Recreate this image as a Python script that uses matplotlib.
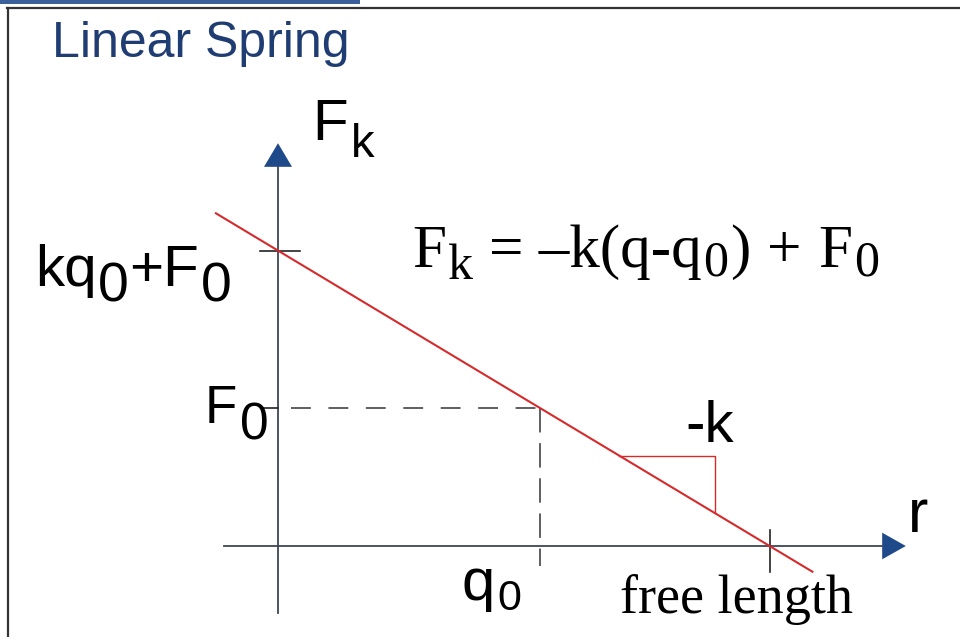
import matplotlib
matplotlib.use("Agg")
import matplotlib.pyplot as plt
import matplotlib.transforms as mtransforms
from matplotlib.patches import Rectangle

# -----------------------------
# Spring model (diagram units)
# -----------------------------
K = 0.6                # slope magnitude
Q0 = 4.0               # reference position
F0 = 2.1               # force at q0
FREE_LENGTH = 7.5      # where the force crosses zero
KQ0_F0 = 4.5           # intercept on the force axis

# red force line, end points
q_line = [-0.96, 8.16]
f_line = [5.08, -0.40]

# little slope triangle
tri_q = [5.20, 6.66, 6.66]
tri_f = [1.37, 1.37, 0.50]

# axes extents
R_AXIS = [-0.82, 9.21]
F_AXIS = [-1.02, 5.78]
R_TIP = 9.57
F_TIP = 6.14

# -----------------------------
# Figure setup
# -----------------------------
W, H = 960, 637
SCALE = 65.6                 # pixels per diagram unit
ORIGIN = (278, 546)          # pixel position of (0, 0)

fig = plt.figure(figsize=(W / 100, H / 100), dpi=100)
ax = fig.add_axes([0, 0, 1, 1])
ax.set_xlim(-ORIGIN[0] / SCALE, (W - ORIGIN[0]) / SCALE)
ax.set_ylim((ORIGIN[1] - H) / SCALE, ORIGIN[1] / SCALE)
ax.axis("off")

# pixel transform, y measured downwards from the top edge
pix = mtransforms.Affine2D().scale(1, -1).translate(0, H) + mtransforms.IdentityTransform()

AXIS_COL = "#3c4757"
HEAD_COL = "#1f4a8a"
RED = "#d62a2c"
NAVY = "#1f3d73"

# frame + little blue tab on top
fig.add_artist(Rectangle((0, 0), 360, 4, transform=pix, color="#3b5f9b", lw=0))
fig.add_artist(plt.Line2D([7, 960], [8, 8], transform=pix, color="#333333", lw=1.6))
fig.add_artist(plt.Line2D([8, 8], [8, 637], transform=pix, color="#333333", lw=1.6))

# axes lines
ax.plot(R_AXIS, [0, 0], color=AXIS_COL, lw=1.3)
ax.plot([0, 0], F_AXIS, color=AXIS_COL, lw=1.3)
hw = 14 / SCALE
ax.fill([R_AXIS[1], R_AXIS[1], R_TIP], [-hw * 0.95, hw * 0.95, 0], color=HEAD_COL, lw=0)
ax.fill([-hw, hw, 0], [F_AXIS[1], F_AXIS[1], F_TIP], color=HEAD_COL, lw=0)

# ticks
ax.plot([-0.27, 0.34], [KQ0_F0, KQ0_F0], color="#222222", lw=1.2)
ax.plot([-0.25, 0], [F0, F0], color="#222222", lw=1.2)
ax.plot([FREE_LENGTH, FREE_LENGTH], [0.24, -0.40], color="#222222", lw=1.2)

# dashed guides to (q0, F0)
ax.plot([0.2, Q0], [F0, F0], color="#333333", lw=1.1, dashes=(13, 11.5))
ax.plot([Q0, Q0], [F0, -0.3], color="#333333", lw=1.1, dashes=(16, 7))

# force line and slope triangle
ax.plot(q_line, f_line, color=RED, lw=1.5, solid_capstyle="butt")
ax.plot(tri_q, tri_f, color=RED, lw=1.0)

# -----------------------------
# Labels (pieces with subscripts)
# -----------------------------
fig.canvas.draw()
renderer = fig.canvas.get_renderer()


def write(x, y, parts, family, color="black"):
    # parts: (text, fontsize, baseline shift in px, extra gap after in px)
    for s, size, dy, gap in parts:
        t = fig.text(x, y + dy, s, transform=pix, fontsize=size, family=family,
                     color=color, ha="left", va="baseline")
        x += t.get_window_extent(renderer).width + gap


SANS = "Liberation Sans"
SERIF = "Liberation Serif"

write(52, 57, [("Linear Spring", 36, 0, 0)], SANS, NAVY)
write(312, 140, [("F", 42, 0, 3), ("k", 34, 17, 0)], SANS)
write(35, 286, [("kq", 42, 0, 1), ("0", 40, 16, 1), ("+F", 42, 0, 2), ("0", 40, 16, 0)], SANS)
write(205, 423, [("F", 38, 0, 3), ("0", 37, 17, 0)], SANS)
write(462, 600, [("q", 43, 0, 2), ("0", 31, 10, 0)], SANS)
write(685, 442, [("-k", 42, 0, 0)], SANS)
write(908, 532, [("r", 44, 0, 0)], SANS)

write(412, 267, [("F", 44, 0, 2), ("k", 36, 12, 16), ("= \u2013k(q-q", 44, 0, 1),
                 ("0", 36, 9, 2), (")", 44, 0, 17), ("+", 44, 0, 17), ("F", 44, 0, 2),
                 ("0", 36, 9, 0)], SERIF)
write(620, 613, [("free length", 39, 0, 0)], SERIF)

fig.savefig("out.png", dpi=100, facecolor="white")
